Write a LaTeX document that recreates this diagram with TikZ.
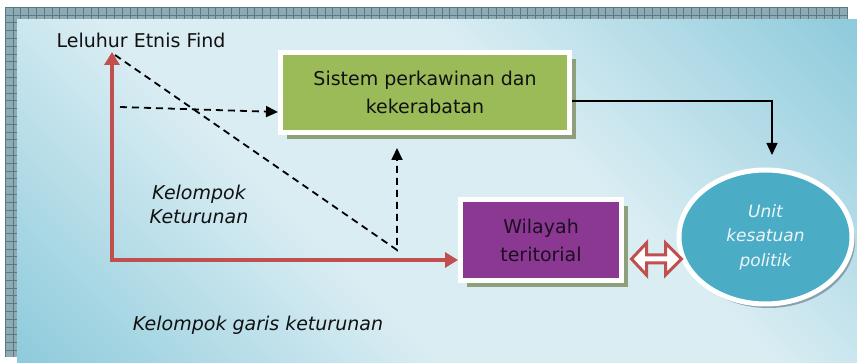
\documentclass[tikz,border=0pt]{standalone}
\usepackage{fontspec}
\setmainfont{DejaVu Sans}
\usetikzlibrary{arrows.meta,shadows,shapes.geometric}

\definecolor{frameblue}{HTML}{8FAAB2}
\definecolor{framegrid}{HTML}{557B86}
\definecolor{panellight}{HTML}{DAEDF3}
\definecolor{paneldark}{HTML}{8CCADB}
\definecolor{linkred}{HTML}{C0504D}
\definecolor{boxgreen}{HTML}{9BBB59}
\definecolor{boxpurple}{HTML}{8B3893}
\definecolor{unitblue}{HTML}{4BACC6}
\definecolor{shadowolive}{HTML}{8D9F7B}
\definecolor{shadowblue}{HTML}{86A2AC}
\definecolor{textdark}{HTML}{111111}
\definecolor{purpletext}{HTML}{1C0E1F}
\definecolor{unittext}{HTML}{EEF6F9}

\pgfdeclarehorizontalshading{panelshade}{100bp}{%
  color(0bp)=(paneldark); color(14bp)=(paneldark);
  color(40bp)=(panellight); color(60bp)=(panellight);
  color(86bp)=(paneldark); color(100bp)=(paneldark)}

\tikzset{
  label text/.style={text=textdark, font=\fontsize{19}{24}\selectfont},
  italic label/.style={label text, align=center, font=\fontsize{19}{24}\selectfont\itshape},
  boxnode/.style={draw=white, line width=5pt, align=center, inner sep=0pt,
    font=\fontsize{19}{28}\selectfont},
  redlink/.style={draw=linkred, line width=4.5pt, line join=miter,
    -{Triangle[length=13pt,width=15pt]}},
  dashlink/.style={draw=black, line width=1.8pt, dash pattern=on 7pt off 5pt,
    -{Triangle[length=12pt,width=11pt]}},
  solidlink/.style={draw=black, line width=1.3pt,
    -{Triangle[length=12pt,width=11pt]}},
}

\begin{document}
\begin{tikzpicture}[x=1pt,y=-1pt]
\useasboundingbox (0,0) rectangle (857,363);

% gridded frame behind the panel
\fill[frameblue] (5,7) rectangle (848,357);
\foreach \gx in {5,12.8,...,848} \draw[framegrid, line width=0.5pt] (\gx,7) -- (\gx,357);
\foreach \gy in {7,14.8,...,357} \draw[framegrid, line width=0.5pt] (5,\gy) -- (848,\gy);

% shaded panel
\shade[shading=panelshade, shading angle=45] (17,20) rectangle (857,363);

% boxes
\node[boxnode, fill=boxgreen, text=textdark, minimum width=289pt, minimum height=80pt,
  drop shadow={shadow xshift=6pt, shadow yshift=-7pt, fill=shadowolive, opacity=1}]
  (kin) at (425,92.5) {Sistem perkawinan dan\\kekerabatan};

\node[boxnode, fill=boxpurple, text=purpletext, minimum width=161pt, minimum height=81pt,
  drop shadow={shadow xshift=6pt, shadow yshift=-7pt, fill=shadowolive, opacity=1}]
  (wil) at (541,240) {Wilayah\\teritorial};

\node[ellipse, draw=white, line width=5pt, fill=unitblue, text=unittext,
  minimum width=173pt, minimum height=134pt, inner sep=0pt, align=center,
  font=\fontsize{17}{24.5}\selectfont\itshape,
  drop shadow={shadow xshift=3pt, shadow yshift=-4pt, fill=shadowblue, opacity=1}]
  (unit) at (765.5,237) {Unit\\kesatuan\\politik};

% text labels
\node[label text] (lel) at (141,40) {Leluhur Etnis Find};
\node[italic label] (kk) at (199,204) {Kelompok\\Keturunan};
\node[italic label] (kgk) at (258,325) {Kelompok garis keturunan};

% red lineage arrows
\coordinate (ancestor) at (112,52);
\coordinate (bend) at (112,260);
\draw[redlink] (bend) -- (ancestor);
\draw[redlink] ([yshift=2.2pt]bend) -- (bend) -- (bend -| wil.west);

% dashed links
\coordinate (dstart) at (115,55);
\coordinate (dturn) at (397,250);
\coordinate (dup) at (397,148);
\draw[dashlink] (dstart) -- (dturn) -- (dup);
\coordinate (hstart) at (120,107);
\draw[dashlink] (hstart) -- ([yshift=-19.5pt]kin.west);

% solid link to the political unit
\coordinate (uin) at (772,155);
\draw[solidlink] ([yshift=-8.5pt]kin.east) -| (uin);

% two-way block arrow between territory and political unit
\draw[draw=linkred, fill=white, line width=3pt, line join=miter]
  (631.5,259) -- (646.5,243) -- (646.5,255) -- (665.5,255) -- (665.5,243)
  -- (681.5,259) -- (665.5,275) -- (665.5,263) -- (646.5,263)
  -- (646.5,275) -- cycle;
\end{tikzpicture}
\end{document}
